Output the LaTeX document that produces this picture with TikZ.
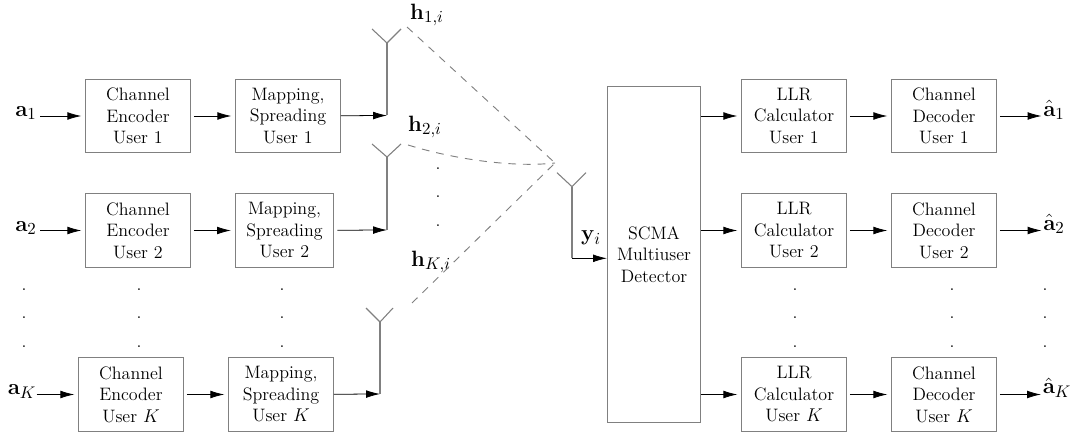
\documentclass[tikz,border=0pt]{standalone}
\usetikzlibrary{arrows.meta}

\definecolor{boxgray}{gray}{0.5}

\tikzset{
	blockbox/.style={draw=boxgray, line width=0.7pt, minimum width=68pt, minimum height=48pt, inner sep=0pt, align=center, font=\fontsize{11.7}{14}\selectfont},
	sigarrow/.style={-{Latex[length=9pt,width=5pt]}, line width=0.5pt, shorten <=2pt, shorten >=2.5pt},
	antline/.style={draw=boxgray, line width=0.7pt},
	linkline/.style={draw=boxgray, line width=0.6pt, dash pattern=on 5pt off 4.5pt},
	siglabel/.style={inner sep=0pt, font=\fontsize{15}{18}\selectfont},
	dotcol/.style={inner sep=0pt, align=center, font=\fontsize{11.7}{18.5}\selectfont},
}

\begin{document}
\begin{tikzpicture}[x=0.65pt,y=0.65pt,yscale=-1,xscale=1]
		% Fix the page to the size of the diagram
		\useasboundingbox (0,0) rectangle (1075,438);

		% Inputs
		\node[siglabel] (a1) at (26,113) {\(\mathbf{a}_1\)};
		\node[siglabel] (a2) at (26,228) {\(\mathbf{a}_2\)};
		\node[siglabel] (aK) at (22,392) {\(\mathbf{a}_K\)};

		% Encoder boxes
		\node[blockbox] (enc1) at (138,116) {Channel\\Encoder\\User 1};
		\node[blockbox] (enc2) at (138,230.5) {Channel\\Encoder\\User 2};
		\node[blockbox] (encK) at (131,394.5) {Channel\\Encoder\\User \(K\)};

		% Mapping boxes
		\node[blockbox] (map1) at (288,116) {Mapping,\\Spreading\\User 1};
		\node[blockbox, minimum width=64pt] (map2) at (284.5,230.5) {Mapping,\\Spreading\\User 2};
		\node[blockbox] (mapK) at (281,394.5) {Mapping,\\Spreading\\User \(K\)};

		% Detector
		\node[blockbox, minimum width=60.5pt, minimum height=218pt] (det) at (654,254.5) {SCMA\\Multiuser\\Detector};

		% LLR boxes
		\node[blockbox] (llr1) at (794,116) {LLR\\Calculator\\User 1};
		\node[blockbox] (llr2) at (794,230.5) {LLR\\Calculator\\User 2};
		\node[blockbox] (llrK) at (794,394.5) {LLR\\Calculator\\User \(K\)};

		% Decoder boxes
		\node[blockbox] (dec1) at (944,116) {Channel\\Decoder\\User 1};
		\node[blockbox] (dec2) at (944,230.5) {Channel\\Decoder\\User 2};
		\node[blockbox] (decK) at (944,394.5) {Channel\\Decoder\\User \(K\)};

		% Outputs
		\node[siglabel] (ahat1) at (1054,110) {\(\hat{\mathbf{a}}_1\)};
		\node[siglabel] (ahat2) at (1054,224) {\(\hat{\mathbf{a}}_2\)};
		\node[siglabel] (ahatK) at (1057,388) {\(\hat{\mathbf{a}}_K\)};

		% Channel labels
		\node[siglabel] (h1) at (427,15) {\(\mathbf{h}_{1,i}\)};
		\node[siglabel] (h2) at (425,127) {\(\mathbf{h}_{2,i}\)};
		\node[siglabel] (hK) at (431,262) {\(\mathbf{h}_{K,i}\)};
		\node[siglabel] (yi) at (591,238) {\(\mathbf{y}_i\)};

		% Vertical dots
		\node[dotcol] (dotsa) at (24,318) {.\\.\\.};
		\node[dotcol] (dotsenc) at (139,318) {.\\.\\.};
		\node[dotcol] (dotsmap) at (282,318) {.\\.\\.};
		\node[dotcol] (dotsh) at (438,197) {.\\.\\.};
		\node[dotcol] (dotsllr) at (795,318) {.\\.\\.};
		\node[dotcol] (dotsdec) at (952,318) {.\\.\\.};
		\node[dotcol] (dotsahat) at (1045,318) {.\\.\\.};

		% Antenna feet and tips
		\coordinate (foot1) at (387,115.5);
		\coordinate (ant1) at (387,43);
		\coordinate (foot2) at (387,230);
		\coordinate (ant2) at (387,157);
		\coordinate (footK) at (380,394);
		\coordinate (antK) at (380,322);
		\coordinate (antR) at (572,186.7);
		\coordinate (footR) at (572,258.3);
		\coordinate (tip1) at (407,27);
		\coordinate (tip2) at (408,145);
		\coordinate (tipK) at (412,303);
		\coordinate (tipR) at (555,163);

		% Arrows on the transmit side
		\draw[sigarrow] (a1.east |- enc1) -- (enc1);
		\draw[sigarrow] (a2.east |- enc2) -- (enc2);
		\draw[sigarrow, shorten <=0pt] (aK.east |- encK) -- (encK);
		\draw[sigarrow] (enc1) -- (map1);
		\draw[sigarrow] (enc2) -- (map2);
		\draw[sigarrow] (encK) -- (mapK);
		\draw[sigarrow, shorten <=0pt, shorten >=0pt] (map1) -- (foot1);
		\draw[sigarrow, shorten >=0pt] (map2) -- (foot2);
		\draw[sigarrow, shorten <=0pt, shorten >=0pt] (mapK) -- (footK);

		% Transmit antennas
		\draw[antline] (foot1) -- (ant1);
		\draw[antline] (ant1) -- +(-15,-14);
		\draw[antline] (ant1) -- +(14,-14);
		\draw[antline] (foot2) -- (ant2);
		\draw[antline] (ant2) -- +(-15,-13);
		\draw[antline] (ant2) -- +(14,-13);
		\draw[antline] (footK) -- (antK);
		\draw[antline] (antK) -- +(-14,-14);
		\draw[antline] (antK) -- +(13,-14);

		% Dashed channels
		\draw[linkline] (tip1) -- (tipR);
		\draw[linkline] (tip2) .. controls (450,158) and (510,168) .. (tipR);
		\draw[linkline] (tipK) -- (tipR);

		% Receive antenna
		\draw[antline] (footR) -- (antR);
		\draw[antline] (antR) -- +(-15,-14);
		\draw[antline] (antR) -- +(14,-14);
		\draw[sigarrow, shorten <=0pt, shorten >=0pt] (footR) -- (det.west |- footR);

		% Arrows on the receive side
		\draw[sigarrow, shorten <=0pt] (det.east |- llr1) -- (llr1);
		\draw[sigarrow, shorten <=0pt] (det.east |- llr2) -- (llr2);
		\draw[sigarrow, shorten <=0pt] (det.east |- llrK) -- (llrK);
		\draw[sigarrow] (llr1) -- (dec1);
		\draw[sigarrow] (llr2) -- (dec2);
		\draw[sigarrow] (llrK) -- (decK);
		\draw[sigarrow, shorten >=1pt] (dec1) -- (ahat1.west |- dec1);
		\draw[sigarrow, shorten >=1pt] (dec2) -- (ahat2.west |- dec2);
		\draw[sigarrow, shorten >=1pt] (decK) -- (ahatK.west |- decK);
	\end{tikzpicture}
\end{document}
